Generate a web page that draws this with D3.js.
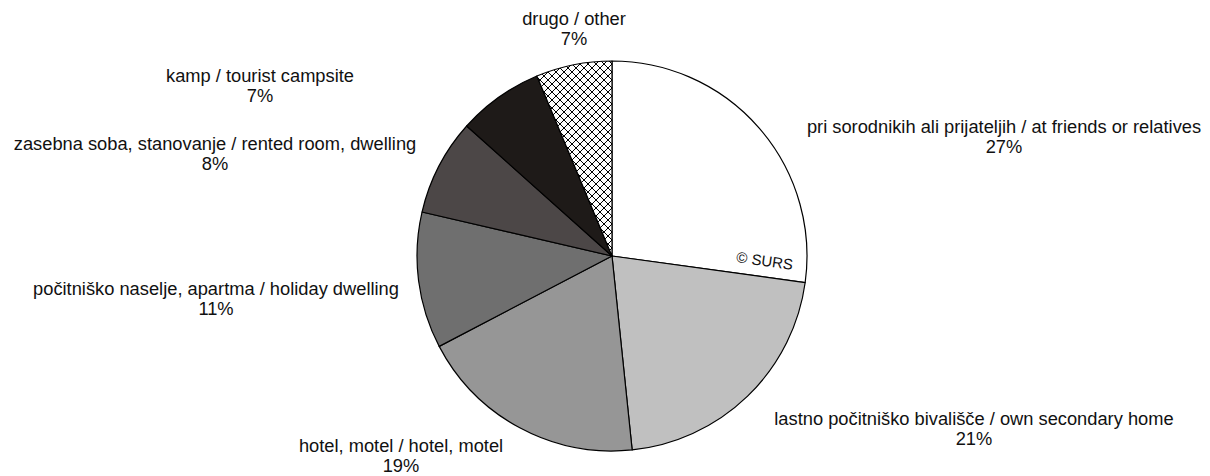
<!DOCTYPE html>
<html>
<head>
<meta charset="utf-8">
<script src="https://cdn.jsdelivr.net/npm/d3@7"></script>
<style>
  html, body { margin: 0; padding: 0; background: #fff; }
  svg { display: block; }
  text { font-family: "Liberation Sans", Arial, sans-serif; fill: #111; }
</style>
</head>
<body>
<svg id="chart" width="1210" height="476"></svg>
<script>
// ---- data ----
const categories = [
  "pri sorodnikih ali prijateljih / at friends or relatives",
  "lastno počitniško bivališče / own secondary home",
  "hotel, motel / hotel, motel",
  "počitniško naselje, apartma / holiday dwelling",
  "zasebna soba, stanovanje / rented room, dwelling",
  "kamp / tourist campsite",
  "drugo / other"
];
const values = [27.2, 21.2, 19.0, 11.3, 8.0, 7.1, 6.3];
const percentLabels = ["27%", "21%", "19%", "11%", "8%", "7%", "7%"];

// ---- layout / style (not data) ----
const fills = ["#ffffff", "#c0c0c0", "#969696", "#6f6f6f", "#4c4747", "#1e1a18", "url(#crosshatch)"];
const labelPos = [ // text center x, first-line baseline y
  [1004, 133], [974, 425], [401, 452], [216, 295], [215, 150], [260, 82], [574, 25]
];
const lineGap = 20;
const fontSize = 18.3;

const svg = d3.select("#chart");
const cx = 612, cy = 256, r = 195;

const P = 8;
const defs = svg.append("defs");
const pat = defs.append("pattern")
  .attr("id", "crosshatch")
  .attr("patternUnits", "userSpaceOnUse")
  .attr("width", P).attr("height", P);
pat.append("rect").attr("width", P).attr("height", P).attr("fill", "#fff");
pat.append("path")
  .attr("d", `M0,0L${P},${P}M${P},0L0,${P}M-1,${P-1}L1,${P+1}M${P-1},-1L${P+1},1M-1,1L1,-1M${P-1},${P+1}L${P+1},${P-1}`)
  .attr("stroke", "#000").attr("stroke-width", 1).attr("fill", "none");

const pie = d3.pie().sort(null).value(d => d);
const arcs = pie(values);
const arc = d3.arc().innerRadius(0).outerRadius(r);

const g = svg.append("g").attr("transform", `translate(${cx},${cy})`);
g.selectAll("path.slice")
  .data(arcs)
  .join("path")
  .attr("class", "slice")
  .attr("d", arc)
  .attr("fill", (d, i) => fills[i])
  .attr("stroke", "#000")
  .attr("stroke-width", 1.2)
  .attr("stroke-linejoin", "round");

// labels
const lg = svg.append("g");
categories.forEach((c, i) => {
  const [x, y] = labelPos[i];
  const t = lg.append("text")
    .attr("text-anchor", "middle")
    .attr("font-size", fontSize);
  t.append("tspan").attr("x", x).attr("y", y).text(c);
  t.append("tspan").attr("x", x).attr("y", y + lineGap).text(percentLabels[i]);
});

// copyright
svg.append("text")
  .attr("transform", `translate(764,266) rotate(8)`)
  .attr("text-anchor", "middle")
  .attr("font-size", 15)
  .text("© SURS");
</script>
</body>
</html>
